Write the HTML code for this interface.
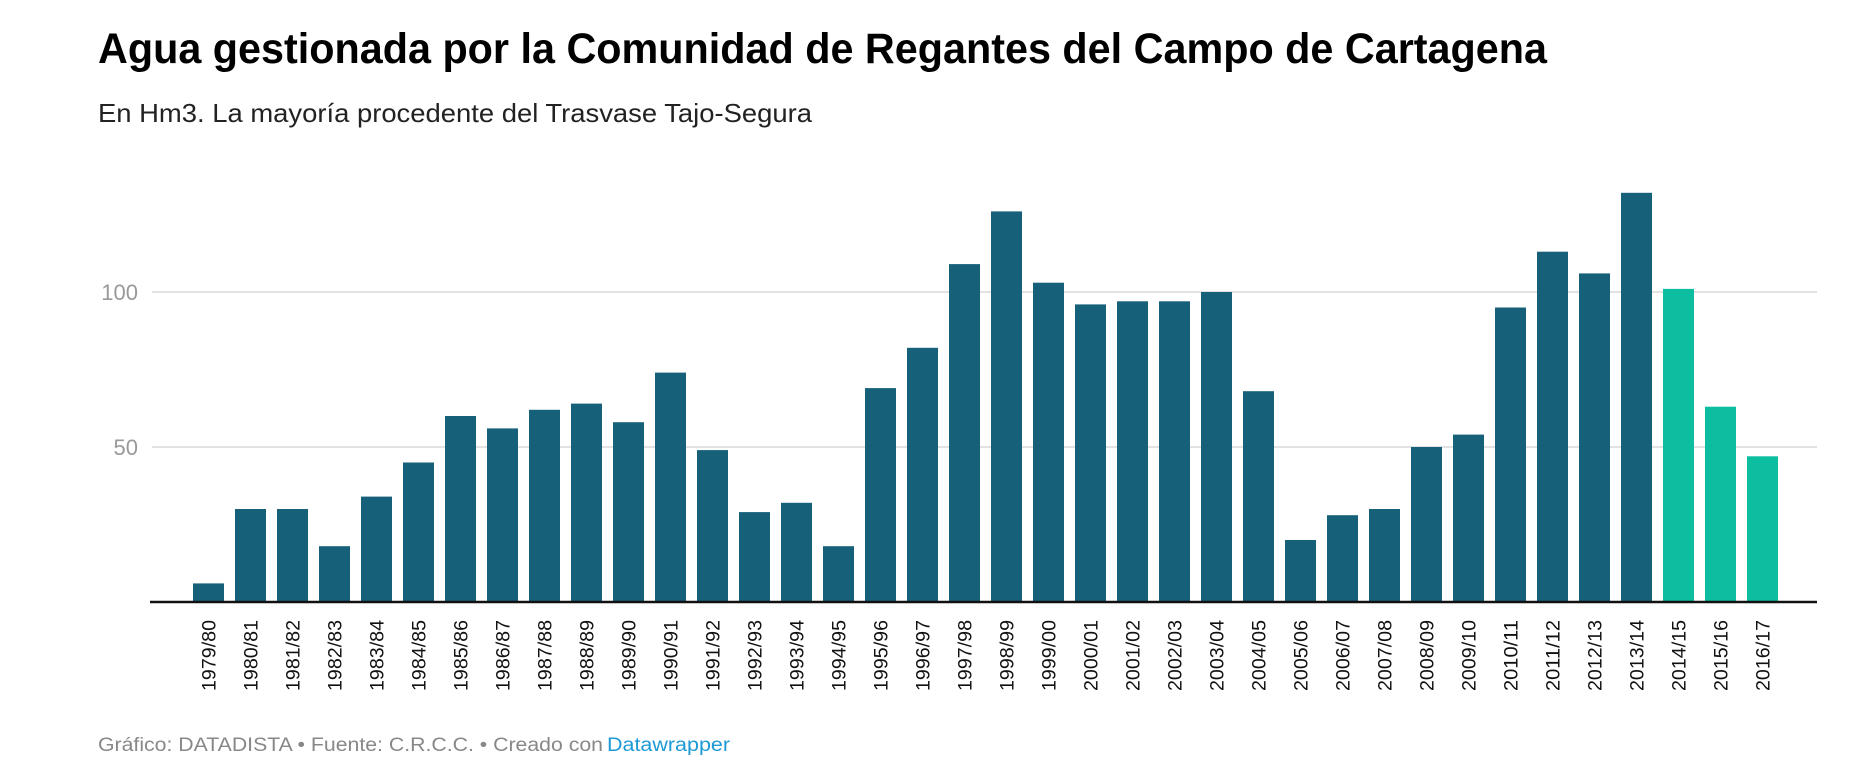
<!DOCTYPE html>
<html><head><meta charset="utf-8"><style>
html,body{margin:0;padding:0;background:#fff;}
svg{display:block;font-family:"Liberation Sans",Arial,sans-serif;}
</style></head><body>
<svg id="chart" width="1870" height="782" viewBox="0 0 1870 782">
<text x="98" y="63" font-size="43" font-weight="bold" fill="#000" textLength="1449" lengthAdjust="spacingAndGlyphs">Agua gestionada por la Comunidad de Regantes del Campo de Cartagena</text>
<text x="98" y="122" font-size="26" fill="#222" textLength="714" lengthAdjust="spacingAndGlyphs">En Hm3. La mayoría procedente del Trasvase Tajo-Segura</text>
<g id="grid"></g>
<g id="bars"></g>
<g id="xlabels"></g>
<line x1="150" x2="1817" y1="602" y2="602" stroke="#111" stroke-width="2.5"/>
<text x="98" y="751" font-size="19" fill="#888" textLength="505" lengthAdjust="spacingAndGlyphs">Gráfico: DATADISTA • Fuente: C.R.C.C. • Creado con</text>
<text x="607" y="751" font-size="19" fill="#1d9ad6" textLength="123" lengthAdjust="spacingAndGlyphs">Datawrapper</text>
</svg>
<script>
const categories = ["1979/80","1980/81","1981/82","1982/83","1983/84","1984/85","1985/86","1986/87","1987/88","1988/89","1989/90","1990/91","1991/92","1992/93","1993/94","1994/95","1995/96","1996/97","1997/98","1998/99","1999/00","2000/01","2001/02","2002/03","2003/04","2004/05","2005/06","2006/07","2007/08","2008/09","2009/10","2010/11","2011/12","2012/13","2013/14","2014/15","2015/16","2016/17"];
const values = [6,30,30,18,34,45,60,56,62,64,58,74,49,29,32,18,69,82,109,126,103,96,97,97,100,68,20,28,30,50,54,95,113,106,132,101,63,47];
const highlighted = ["2014/15","2015/16","2016/17"];
const yTicks = [50,100];

const NS = "http://www.w3.org/2000/svg";
const baseY = 602, pxPerUnit = 3.1, firstX = 208.5, step = 42.0, barW = 31;
function y(v){ return baseY - v * pxPerUnit; }
function xc(i){ return firstX + i * step; }

const grid = document.getElementById('grid');
yTicks.forEach(t => {
  const l = document.createElementNS(NS,'line');
  l.setAttribute('x1',152); l.setAttribute('x2',1817);
  l.setAttribute('y1',y(t)); l.setAttribute('y2',y(t));
  l.setAttribute('stroke','#e2e2e2'); l.setAttribute('stroke-width','2');
  
  
  grid.appendChild(l);
  const tx = document.createElementNS(NS,'text');
  tx.setAttribute('x',138); tx.setAttribute('y',y(t)+8);
  tx.setAttribute('text-anchor','end'); tx.setAttribute('font-size','22'); tx.setAttribute('fill','#999');
  tx.textContent = t;
  
  
  grid.appendChild(tx);
});

const bars = document.getElementById('bars');
const xl = document.getElementById('xlabels');
categories.forEach((c,i) => {
  const r = document.createElementNS(NS,'rect');
  r.setAttribute('x', xc(i)-barW/2); r.setAttribute('y', y(values[i]));
  r.setAttribute('width', barW); r.setAttribute('height', baseY - y(values[i]));
  r.setAttribute('fill', highlighted.includes(c) ? '#0cbd9f' : '#17607a');
  
  
  bars.appendChild(r);
  const t = document.createElementNS(NS,'text');
  t.setAttribute('transform', 'translate(' + (xc(i)+7) + ',620) rotate(-90)');
  t.setAttribute('text-anchor','end'); t.setAttribute('font-size','19'); t.setAttribute('fill','#111');
  t.setAttribute('textLength','71'); t.setAttribute('lengthAdjust','spacingAndGlyphs');
  t.textContent = c;
  
  
  xl.appendChild(t);
});
</script>
</body></html>
